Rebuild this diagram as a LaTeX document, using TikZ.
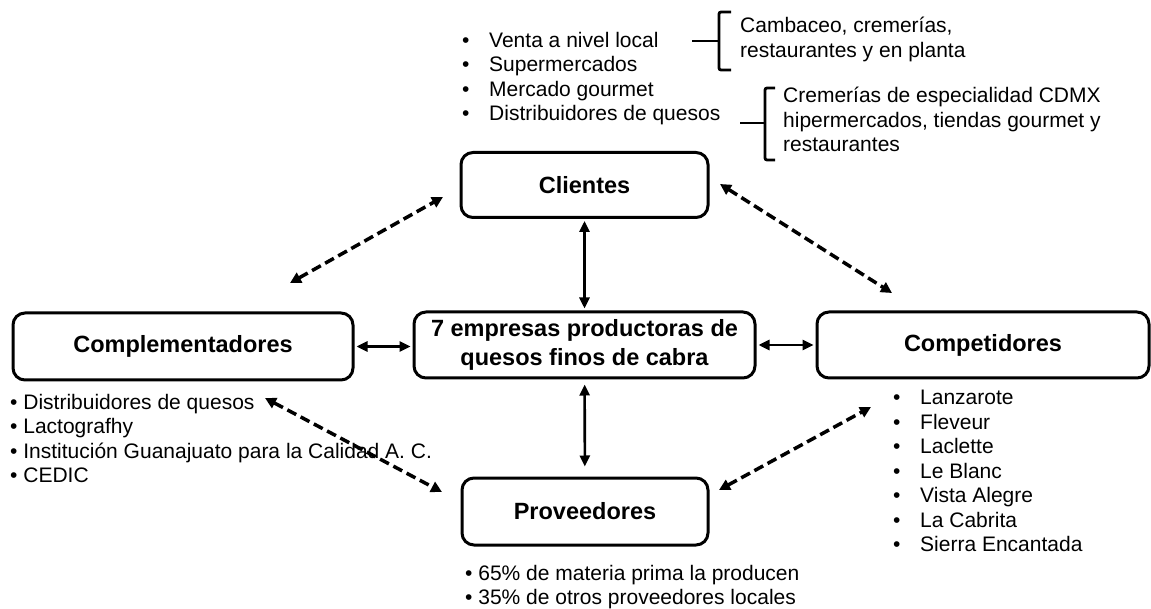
\documentclass[tikz,border=0pt]{standalone}
\usepackage{fontspec}
\setmainfont{Liberation Sans}
\usetikzlibrary{arrows.meta}
\newcommand{\tabbullet}{\makebox[27pt][l]{\textbullet}}
\newcommand{\cortobullet}{\textbullet\ }

\begin{document}
\begin{tikzpicture}[
					x = 1pt, y = -1pt,
					caja/.style = {draw, line width = 3pt, rounded corners = 12pt, inner sep = 0pt, align = center,
						font = \fontsize{23.5}{29}\selectfont\bfseries},
					lista/.style = {anchor = north west, inner sep = 0pt, align = left,
						font = \fontsize{21}{24.5}\selectfont},
					flecha/.style = {{Triangle[length=11pt,width=10pt]}-{Triangle[length=11pt,width=10pt]}, line width = 2.6pt},
					punteada/.style = {{Triangle[length=11pt,width=11pt]}-{Triangle[length=11pt,width=11pt]}, line width = 3.5pt,
						dash pattern = on 10pt off 5pt},
					llave/.style = {line width = 2.8pt, rounded corners = 2pt}
				]

					\useasboundingbox (0,0) rectangle (1151,609);

					\node[caja, minimum width = 247pt, minimum height = 65pt] (clientes) at (584.5,185) {Clientes};
					\node[caja, minimum width = 341pt, minimum height = 66pt] (empresas) at (584.5,345) {7 empresas productoras de\\quesos finos de cabra};
					\node[caja, minimum width = 340pt, minimum height = 67pt] (complementadores) at (183,346.5) {Complementadores};
					\node[caja, minimum width = 332pt, minimum height = 66pt] (competidores) at (983,345) {Competidores};
					\node[caja, minimum width = 246pt, minimum height = 67pt] (proveedores) at (585,511.5) {Proveedores};

					\node[lista] (clientesLista) at (462,32) {\tabbullet Venta a nivel local\\\tabbullet Supermercados\\\tabbullet Mercado gourmet\\\tabbullet Distribuidores de quesos};
					\node[lista] (localLista) at (740,17) {Cambaceo, cremerías,\\restaurantes y en planta};
					\node[lista] (distribLista) at (783,87) {Cremerías de especialidad CDMX\\hipermercados, tiendas gourmet y\\restaurantes};
					\node[lista] (complLista) at (10,394) {\cortobullet Distribuidores de quesos\\\cortobullet Lactografhy\\\cortobullet Institución Guanajuato para la Calidad A. C.\\\cortobullet CEDIC};
					\node[lista] (compLista) at (893,390) {\tabbullet Lanzarote\\\tabbullet Fleveur\\\tabbullet Laclette\\\tabbullet Le Blanc\\\tabbullet Vista Alegre\\\tabbullet La Cabrita\\\tabbullet Sierra Encantada};
					\node[lista] (provLista) at (465,565) {\cortobullet 65\% de materia prima la producen\\\cortobullet 35\% de otros proveedores locales};

					\draw[llave] (731,12) -- (719,12) -- (719,70) -- (731,70);
					\draw[llave] (692,41) -- (719,41);
					\draw[llave] (775,88) -- (765,88) -- (765,160) -- (775,160);
					\draw[llave] (740,123) -- (765,123);

					\draw[flecha, shorten <= 2pt, shorten >= 2pt] (clientes) -- (empresas);
					\draw[flecha, shorten <= 5pt, shorten >= 10pt] (empresas) -- (proveedores);
					\draw[flecha, shorten <= 2pt, shorten >= 2pt] (complementadores.east) -- (empresas.west |- complementadores.east);
					\draw[flecha, shorten <= 2pt, shorten >= 2pt] (empresas) -- (competidores);

					\coordinate (cCl) at (290,283);
					\coordinate (clC) at (443,197);
					\coordinate (clCo) at (720,184);
					\coordinate (coCl) at (892,293);
					\coordinate (cP) at (265,398);
					\coordinate (pC) at (442,492);
					\coordinate (pCo) at (719,490);
					\coordinate (coP) at (871,407);

					\draw[punteada] (cCl) -- (clC);
					\draw[punteada] (clCo) -- (coCl);
					\draw[punteada] (cP) -- (pC);
					\draw[punteada] (pCo) -- (coP);

				\end{tikzpicture}
\end{document}
